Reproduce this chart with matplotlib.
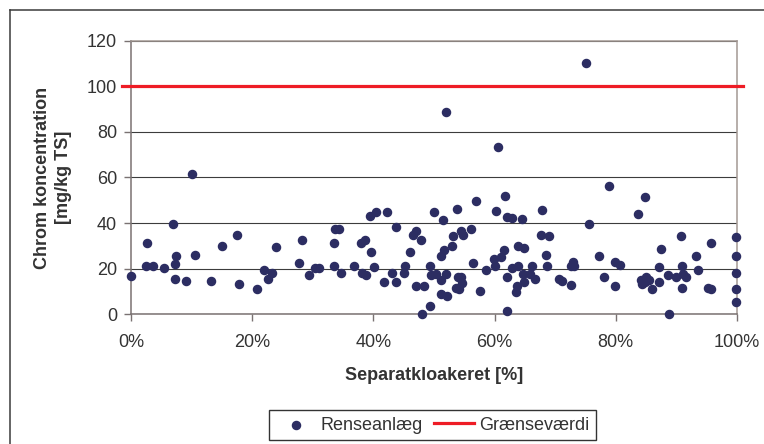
import matplotlib
matplotlib.use("Agg")
import matplotlib.pyplot as plt
from matplotlib.ticker import PercentFormatter
from matplotlib.lines import Line2D

plt.rcParams['font.family'] = ['Liberation Sans', 'DejaVu Sans']

# separatkloakeret andel [%] og chrom koncentration [mg/kg TS]
sep_pct = [0.0, 2.7, 2.5, 3.7, 5.4, 7.0, 7.2, 7.5, 7.2, 9.1,
           10.1, 10.5, 13.2, 15.0, 17.5, 17.9, 20.8, 22.0, 22.6, 23.3,
           23.9, 27.7, 28.2, 29.3, 30.3, 31.1, 33.5, 33.6, 34.4, 33.5,
           34.6, 36.8, 38.0, 38.6, 38.2, 38.7, 39.4, 39.6, 40.1, 40.5,
           42.2, 41.7, 43.1, 43.8, 43.8, 45.1, 45.2, 46.0, 46.5, 47.1,
           47.0, 47.9, 48.4, 48.1, 49.3, 49.3, 49.5, 50.0, 50.3, 51.1,
           51.1, 51.2, 51.5, 51.7, 51.9, 51.9, 52.2, 52.9, 53.2, 53.8,
           53.9, 54.4, 53.7, 54.1, 54.5, 54.8, 54.7, 56.1, 56.4, 57.0,
           57.6, 58.6, 59.9, 60.0, 60.3, 60.5, 61.1, 61.5, 61.7, 62.0,
           62.0, 62.1, 62.9, 62.9, 63.9, 63.9, 63.7, 63.6, 64.5, 64.8,
           64.7, 64.8, 65.8, 66.2, 66.7, 67.6, 67.8, 68.4, 68.6, 68.9,
           70.6, 71.2, 72.6, 72.6, 73.0, 73.1, 75.1, 75.5, 77.2, 78.0,
           78.8, 79.9, 79.9, 80.7, 83.7, 84.1, 84.3, 84.8, 85.0, 84.8,
           85.4, 86.0, 87.1, 87.1, 87.5, 88.8, 88.6, 90.0, 90.8, 90.9,
           91.1, 90.9, 91.6, 93.3, 93.6, 95.2, 95.7, 95.7, 99.9, 99.8,
           99.9, 99.9, 99.9]
chrom = [16.7, 31.1, 21.2, 21.2, 20.5, 39.5, 22.2, 25.6, 15.5, 14.8,
         61.5, 26.2, 14.8, 29.8, 34.9, 13.5, 11.0, 19.3, 15.5, 18.1,
         29.4, 22.4, 32.5, 17.3, 20.5, 20.5, 31.1, 37.4, 37.4, 21.2,
         18.0, 21.2, 31.3, 32.5, 18.1, 17.3, 43.1, 27.5, 20.6, 45.0,
         45.0, 14.0, 18.0, 38.2, 14.0, 18.0, 21.2, 27.5, 34.9, 36.4,
         12.3, 32.6, 12.3, 0.3, 3.5, 21.2, 17.3, 45.0, 17.8, 25.4,
         9.1, 15.2, 41.2, 28.1, 88.6, 17.8, 7.9, 29.8, 34.4, 46.3,
         16.4, 16.4, 11.7, 11.1, 36.4, 34.9, 13.6, 37.6, 22.4, 49.6,
         10.4, 19.3, 24.4, 21.2, 45.2, 73.4, 25.3, 28.1, 52.0, 42.5,
         16.2, 1.6, 42.1, 20.5, 21.2, 29.8, 12.3, 9.6, 42.0, 29.2,
         17.5, 14.2, 17.5, 21.2, 15.5, 34.9, 45.8, 26.2, 21.2, 34.4,
         15.5, 14.8, 12.9, 21.2, 22.8, 21.2, 110.1, 39.5, 25.6, 16.2,
         56.4, 22.8, 12.3, 21.8, 43.9, 14.9, 13.5, 51.5, 16.2, 14.0,
         14.9, 11.0, 20.6, 14.2, 28.7, 0.3, 17.3, 16.4, 34.5, 21.2,
         17.5, 11.7, 16.2, 25.4, 19.3, 11.7, 11.1, 31.1, 33.8, 25.4,
         18.0, 11.0, 5.4]
graensevaerdi = 100
x_ticks = [0, 20, 40, 60, 80, 100]
y_ticks = [0, 20, 40, 60, 80, 100, 120]

W, H = 764, 444
fig = plt.figure(figsize=(W / 100, H / 100), dpi=100)

# outer chart frame (only top and left edges are visible in the crop)
fig.add_artist(Line2D([10 / W, 10 / W], [0, 1 - 10 / H], transform=fig.transFigure,
                      color='#3a3a3a', lw=1.1))
fig.add_artist(Line2D([10 / W, 1], [1 - 10 / H, 1 - 10 / H], transform=fig.transFigure,
                      color='#3a3a3a', lw=1.1))

left, right, top, bottom = 131, 737, 40.7, 314.3
ax = fig.add_axes([left / W, 1 - bottom / H, (right - left) / W, (bottom - top) / H])

ax.scatter(sep_pct, chrom, s=34, color='#2c2d62', zorder=4, clip_on=False,
           label='Renseanlæg')
ax.axhline(graensevaerdi, xmin=-0.015, xmax=1.01, color='#ee1c25', lw=2.3,
           zorder=3, clip_on=False, label='Grænseværdi')

ax.set_xlim(0, 100)
ax.set_ylim(0, 120)
ax.set_xticks(x_ticks)
ax.set_yticks(y_ticks)
ax.xaxis.set_major_formatter(PercentFormatter(xmax=100, decimals=0))

ax.yaxis.grid(True, color='#3c3c3c', lw=0.8)
ax.set_axisbelow(True)

for side in ['top', 'right']:
    ax.spines[side].set_color('#a39893')
    ax.spines[side].set_linewidth(1.1)
for side in ['left', 'bottom']:
    ax.spines[side].set_color('#7a7272')
    ax.spines[side].set_linewidth(1.1)

ax.tick_params(axis='both', colors='#7a7272', labelcolor='#333333',
               labelsize=13, length=5, width=1)
ax.tick_params(axis='y', pad=5)
ax.tick_params(axis='x', pad=9)

ax.set_xlabel('Separatkloakeret [%]', fontsize=13, fontweight='bold',
              color='#333333', va='center')
ax.xaxis.set_label_coords(0.5, (bottom - 375) / (bottom - top))
ax.set_ylabel('Chrom koncentration\n[mg/kg TS]', fontsize=13, fontweight='bold',
              color='#333333', va='center', linespacing=1.35)
ax.yaxis.set_label_coords((53 - left) / (right - left), 0.5)

leg = ax.legend(loc='center', bbox_to_anchor=(432.5 / W, 1 - 425 / H),
                bbox_transform=fig.transFigure, ncol=2, fontsize=13,
                frameon=True, fancybox=False, framealpha=1, edgecolor='#333333',
                handlelength=2.2, handletextpad=0.3, columnspacing=0.6,
                borderpad=0.35, scatterpoints=1)
leg.get_frame().set_linewidth(1.0)
for t in leg.get_texts():
    t.set_color('#333333')

fig.savefig('out.png', dpi=100)
